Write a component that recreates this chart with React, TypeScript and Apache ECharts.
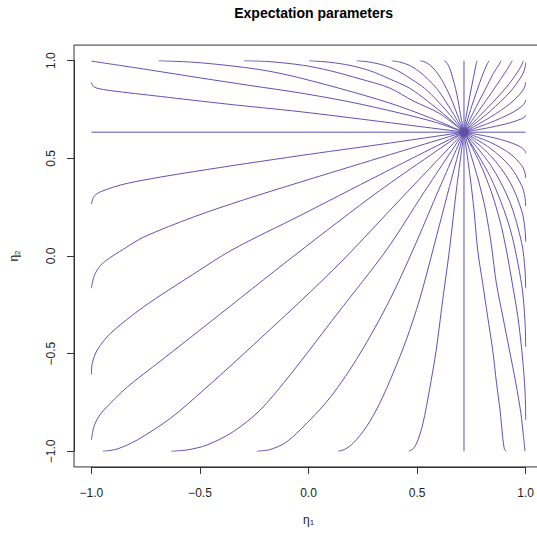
import { useEffect, useRef } from "react";
import * as echarts from "echarts";

// Point where every curve meets
const center = [0.716, 0.634];

const axisTicks = [-1, -0.5, 0, 0.5, 1];

const horizontalLine = [[-1, 0.634], [1, 0.634]];
const verticalLine = [[0.716, -1], [0.716, 1]];

// Each curve is listed from its end on the frame inward; the centre is appended when drawn.
const upperLeftRays = [
  [[-1, 0.889], [-0.995, 0.873], [-0.976, 0.86], [-0.912, 0.847], [-0.682, 0.817], [-0.376, 0.778], [-0.039, 0.739], [0.328, 0.689]],
  [[-1, 0.998], [-0.728, 0.952], [-0.499, 0.912], [-0.269, 0.873], [-0.039, 0.835], [0.19, 0.789], [0.42, 0.732], [0.58, 0.686]],
  [[-0.69, 1], [-0.529, 0.992], [-0.376, 0.976], [-0.223, 0.954], [-0.085, 0.924], [0.144, 0.858], [0.374, 0.783], [0.557, 0.709]],
  [[-0.296, 1], [-0.177, 0.995], [-0.022, 0.976], [0.098, 0.949], [0.237, 0.907], [0.374, 0.86], [0.482, 0.794], [0.603, 0.73]],
  [[0.003, 1], [0.098, 0.992], [0.191, 0.976], [0.282, 0.949], [0.373, 0.907], [0.466, 0.859], [0.547, 0.794], [0.647, 0.704]],
  [[0.222, 1], [0.282, 0.993], [0.348, 0.976], [0.41, 0.949], [0.472, 0.907], [0.534, 0.859], [0.594, 0.794], [0.666, 0.704]],
  [[0.383, 1], [0.42, 0.993], [0.465, 0.976], [0.507, 0.947], [0.548, 0.907], [0.59, 0.858], [0.63, 0.794], [0.68, 0.704]],
  [[0.514, 1], [0.537, 0.993], [0.561, 0.976], [0.586, 0.947], [0.611, 0.907], [0.635, 0.858], [0.661, 0.794], [0.692, 0.704]],
  [[0.624, 1], [0.634, 0.993], [0.644, 0.976], [0.655, 0.947], [0.665, 0.907], [0.677, 0.858], [0.689, 0.794], [0.703, 0.704]],
];

const upperRightRays = [
  [[1, 0.722], [0.997, 0.714], [0.982, 0.703], [0.928, 0.682], [0.839, 0.659]],
  [[1, 0.799], [0.997, 0.786], [0.982, 0.766], [0.928, 0.728], [0.839, 0.684]],
  [[1, 0.891], [0.997, 0.871], [0.982, 0.84], [0.928, 0.78], [0.839, 0.712]],
  [[1, 0.99], [0.997, 0.964], [0.982, 0.922], [0.928, 0.84], [0.839, 0.744]],
  [[0.989, 1], [0.981, 0.976], [0.961, 0.94], [0.925, 0.883], [0.865, 0.806], [0.792, 0.722]],
  [[0.938, 1], [0.926, 0.976], [0.902, 0.934], [0.865, 0.873], [0.819, 0.799], [0.769, 0.719]],
  [[0.887, 1], [0.879, 0.983], [0.851, 0.934], [0.817, 0.86], [0.782, 0.785], [0.748, 0.71]],
  [[0.832, 1], [0.821, 0.978], [0.803, 0.932], [0.78, 0.86], [0.758, 0.789], [0.736, 0.712]],
  [[0.776, 1], [0.771, 0.978], [0.762, 0.927], [0.749, 0.855], [0.737, 0.783], [0.725, 0.709]],
];

const lowerRightRays = [
  [[1, 0.526], [0.997, 0.538], [0.982, 0.555], [0.928, 0.582], [0.839, 0.609]],
  [[1, 0.399], [0.997, 0.425], [0.982, 0.463], [0.928, 0.524], [0.839, 0.581]],
  [[1, 0.256], [0.997, 0.299], [0.982, 0.36], [0.928, 0.459], [0.839, 0.55]],
  [[1, 0.072], [0.997, 0.137], [0.982, 0.231], [0.928, 0.378], [0.839, 0.513]],
  [[1, -0.165], [0.997, -0.071], [0.982, 0.065], [0.928, 0.275], [0.839, 0.465]],
  [[1, -0.466], [0.997, -0.336], [0.982, -0.15], [0.928, 0.14], [0.839, 0.401]],
  [[1, -0.84], [0.9995, -0.763], [0.995, -0.652], [0.982, -0.481], [0.964, -0.311], [0.938, -0.138], [0.911, 0.031], [0.883, 0.174], [0.842, 0.328], [0.787, 0.481]],
  [[0.997, -1], [0.99, -0.925], [0.978, -0.805], [0.955, -0.652], [0.925, -0.481], [0.895, -0.311], [0.865, -0.14], [0.842, 0.056], [0.815, 0.236], [0.782, 0.389], [0.746, 0.525]],
  [[0.911, -1], [0.902, -0.988], [0.894, -0.925], [0.882, -0.789], [0.866, -0.652], [0.848, -0.481], [0.825, -0.311], [0.802, -0.14], [0.779, 0.031], [0.762, 0.236], [0.746, 0.389], [0.73, 0.522]],
];

const lowerLeftRays = [
  [[-1, 0.266], [-0.9885, 0.304], [-0.958, 0.329], [-0.835, 0.372], [-0.529, 0.432], [-0.039, 0.514], [0.328, 0.571]],
  [[-1, -0.165], [-0.9885, -0.106], [-0.967, -0.061], [-0.935, -0.025], [-0.851, 0.036], [-0.759, 0.097], [-0.529, 0.2], [-0.3, 0.287], [-0.039, 0.378], [0.328, 0.503]],
  [[-1, -0.606], [-0.996, -0.549], [-0.973, -0.481], [-0.912, -0.396], [-0.759, -0.26], [-0.529, -0.092], [-0.353, 0.031], [-0.039, 0.207], [0.328, 0.416]],
  [[-1, -0.942], [-0.9885, -0.874], [-0.967, -0.824], [-0.943, -0.789], [-0.835, -0.671], [-0.682, -0.538], [-0.453, -0.338], [-0.062, 0.005], [0.328, 0.335]],
  [[-0.947, -1], [-0.881, -0.988], [-0.789, -0.942], [-0.636, -0.831], [-0.483, -0.686], [-0.33, -0.533], [-0.177, -0.376], [-0.039, -0.234], [0.159, -0.02], [0.42, 0.287]],
  [[-0.632, -1], [-0.56, -0.993], [-0.468, -0.968], [-0.346, -0.899], [-0.223, -0.789], [-0.085, -0.609], [0.135, -0.292], [0.359, 0.031], [0.534, 0.33]],
  [[-0.238, -1], [-0.177, -0.991], [-0.108, -0.957], [-0.039, -0.891], [0.098, -0.727], [0.236, -0.502], [0.374, -0.225], [0.481, 0.031], [0.603, 0.348]],
  [[0.136, -1], [0.167, -0.99], [0.205, -0.959], [0.267, -0.874], [0.328, -0.754], [0.389, -0.601], [0.45, -0.43], [0.511, -0.225], [0.573, 0.031], [0.645, 0.338]],
  [[0.461, -1], [0.484, -0.985], [0.504, -0.942], [0.527, -0.857], [0.557, -0.686], [0.588, -0.481], [0.618, -0.225], [0.649, 0.031], [0.681, 0.338]],
];

const FONT = "'Liberation Sans', Arial, Helvetica, sans-serif";
const LINE = "#5f52b4";
const INK = "#222222";

const fmt = (v: number) => (v < 0 ? "\u2212" : "") + Math.abs(v).toFixed(1);

export default function App() {
  const ref = useRef<HTMLDivElement>(null);

  useEffect(() => {
    const el = ref.current;
    if (!el) return;
    const chart = echarts.init(el, null, { renderer: "svg" });

    const rays = [...upperLeftRays, ...upperRightRays, ...lowerRightRays, ...lowerLeftRays];
    const curveSeries = rays.map((ray) => ({
      type: "line",
      data: [...ray, center],
      showSymbol: false,
      smooth: 0.3,
      silent: true,
      lineStyle: { color: LINE, width: 1 },
      z: 2,
    }));
    const straightSeries = [horizontalLine, verticalLine].map((seg) => ({
      type: "line",
      data: seg,
      showSymbol: false,
      silent: true,
      lineStyle: { color: LINE, width: 1 },
      z: 2,
    }));

    const axisCommon = {
      type: "value",
      min: -1,
      max: 1,
      interval: 0.5,
      splitLine: { show: false },
      axisLine: { show: true, onZero: false, lineStyle: { color: "#333", width: 1 } },
      axisTick: { show: true, length: 7, lineStyle: { color: "#333", width: 1 } },
      nameLocation: "middle",
    };

    chart.setOption({
      animation: false,
      title: {
        text: "Expectation parameters",
        left: 308.6,
        top: 1,
        textAlign: "center",
        textStyle: { fontFamily: FONT, fontSize: 14, fontWeight: "bold", color: "#000" },
      },
      grid: { left: 90.8, right: 10.6, top: 60.7, bottom: 83.7, containLabel: false },
      xAxis: {
        ...axisCommon,
        position: "bottom",
        offset: 15.6,
        axisLabel: {
          margin: 20,
          fontFamily: FONT,
          fontSize: 12,
          color: INK,
          customValues: axisTicks,
          formatter: (v: number) => fmt(v),
        },
        name: "{e|\u03B7}{s|1}",
        nameGap: 46,
        nameTextStyle: {
          fontFamily: FONT,
          color: INK,
          rich: {
            e: { fontFamily: FONT, fontSize: 12, color: INK },
            s: { fontFamily: FONT, fontSize: 8, color: INK, padding: [6, 0, 0, 0] },
          },
        },
      },
      yAxis: {
        ...axisCommon,
        position: "left",
        offset: 17.4,
        axisLabel: {
          margin: 17,
          rotate: 90,
          fontFamily: FONT,
          fontSize: 12,
          color: INK,
          formatter: (v: number) => fmt(v),
        },
        name: "{e|\u03B7}{s|2}",
        nameGap: 53,
        nameRotate: 90,
        nameTextStyle: {
          fontFamily: FONT,
          color: INK,
          rich: {
            e: { fontFamily: FONT, fontSize: 12, color: INK },
            s: { fontFamily: FONT, fontSize: 8, color: INK, padding: [6, 0, 0, 0] },
          },
        },
      },
      series: [
        ...straightSeries,
        ...curveSeries,
        {
          type: "scatter",
          data: [center],
          symbol: "circle",
          symbolSize: 10,
          silent: true,
          itemStyle: { color: "#5d4fa8", borderColor: "#8a5a9c", borderWidth: 1 },
          z: 3,
        },
      ],
    });

    // plot frame sits 4% beyond the data range on each side
    const tl = chart.convertToPixel({ gridIndex: 0 }, [-1.08, 1.08]) as number[];
    const br = chart.convertToPixel({ gridIndex: 0 }, [1.08, -1.08]) as number[];
    chart.setOption({
      graphic: [
        {
          type: "rect",
          silent: true,
          shape: { x: tl[0], y: tl[1], width: br[0] - tl[0], height: br[1] - tl[1] },
          style: { fill: "none", stroke: "#333", lineWidth: 1 },
          z: 10,
        },
      ],
    });

    return () => chart.dispose();
  }, []);

  return (
    <div
      ref={ref}
      style={{ position: "fixed", left: 0, top: 0, width: 537, height: 535, background: "#fff" }}
    />
  );
}
